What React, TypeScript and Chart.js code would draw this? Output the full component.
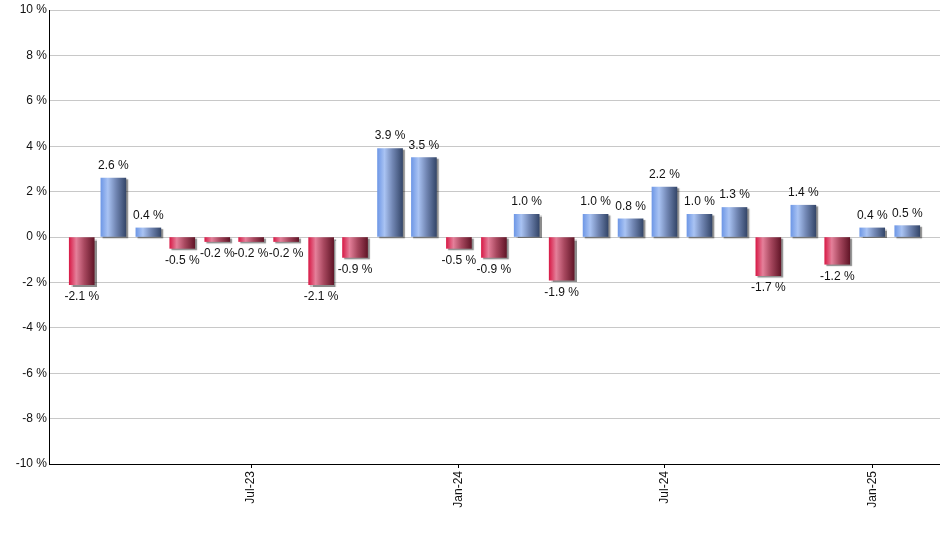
import React, { useEffect, useRef } from "react";
import { Chart, registerables } from "chart.js";

Chart.register(...registerables);

const months = [
  "2023-02", "2023-03", "2023-04", "2023-05", "2023-06", "2023-07", "2023-08",
  "2023-09", "2023-10", "2023-11", "2023-12", "2024-01", "2024-02", "2024-03",
  "2024-04", "2024-05", "2024-06", "2024-07", "2024-08", "2024-09", "2024-10",
  "2024-11", "2024-12", "2025-01", "2025-02",
];
const values = [
  -2.1, 2.6, 0.4, -0.5, -0.2, -0.2, -0.2, -2.1, -0.9, 3.9, 3.5, -0.5, -0.9,
  1.0, -1.9, 1.0, 0.8, 2.2, 1.0, 1.3, -1.7, 1.4, -1.2, 0.4, 0.5,
];
const tickMonths = ["2023-07", "2024-01", "2024-07", "2025-01"];
const tickLabels = ["Jul-23", "Jan-24", "Jul-24", "Jan-25"];
const yTicks = [-10, -8, -6, -4, -2, 0, 2, 4, 6, 8, 10];
const xRangeStart = "2023-01-03";
const xRangeEnd = "2025-03-02";

const DAY = 86400000;
const monthToDay = (m: string) => {
  const [y, mo] = m.split("-").map(Number);
  return Date.UTC(y, mo - 1, 1) / DAY;
};
const dateToDay = (d: string) => {
  const [y, mo, da] = d.split("-").map(Number);
  return Date.UTC(y, mo - 1, da) / DAY;
};

const FONT = "'Liberation Sans', Arial, sans-serif";
const BAR_W = 25;

export default function App() {
  const ref = useRef<HTMLCanvasElement | null>(null);

  useEffect(() => {
    if (!ref.current) return;
    const xVals = months.map(monthToDay);
    const tickVals = tickMonths.map(monthToDay);

    const makeGradient = (ctx: CanvasRenderingContext2D, cx: number, v: number) => {
      const g = ctx.createLinearGradient(cx - BAR_W / 2, 0, cx + BAR_W / 2, 0);
      if (v >= 0) {
        g.addColorStop(0, "#6f98e6");
        g.addColorStop(0.28, "#a9c3f3");
        g.addColorStop(0.6, "#7287b4");
        g.addColorStop(1, "#35476a");
      } else {
        g.addColorStop(0, "#d81c48");
        g.addColorStop(0.28, "#e4809a");
        g.addColorStop(0.6, "#a8485f");
        g.addColorStop(1, "#621628");
      }
      return g;
    };

    const barStylePlugin = {
      id: "barStyle",
      beforeDatasetDraw(chart: any) {
        const ctx = chart.ctx;
        const meta = chart.getDatasetMeta(0);
        meta.data.forEach((el: any, i: number) => {
          if (Number.isFinite(el.x) && el.options) {
            el.options.backgroundColor = makeGradient(ctx, el.x, values[i]);
          }
        });
        ctx.save();
        ctx.shadowColor = "rgba(0,0,0,0.45)";
        ctx.shadowOffsetX = 2;
        ctx.shadowOffsetY = 1.5;
        ctx.shadowBlur = 1;
      },
      afterDatasetDraw(chart: any) {
        chart.ctx.restore();
      },
    };

    const labelPlugin = {
      id: "barLabels",
      afterDraw(chart: any) {
        const ctx = chart.ctx;
        const meta = chart.getDatasetMeta(0);
        ctx.save();
        ctx.font = `12px ${FONT}`;
        ctx.fillStyle = "#111";
        ctx.textAlign = "center";
        ctx.textBaseline = "alphabetic";
        meta.data.forEach((el: any, i: number) => {
          const v = values[i];
          const txt = `${v.toFixed(1)} %`;
          const y = v >= 0 ? el.y - 9 : el.y + 15.5;
          ctx.fillText(txt, el.x, y);
        });
        ctx.restore();
      },
    };

    const chart = new Chart(ref.current, {
      type: "bar",
      data: {
        datasets: [
          {
            data: xVals.map((x, i) => ({ x, y: values[i] })),
            backgroundColor: values.map((v) => (v >= 0 ? "#7d98cc" : "#b84060")),
            borderWidth: 0,
            barThickness: BAR_W,
          } as any,
        ],
      },
      options: {
        responsive: false,
        animation: false,
        layout: { padding: { top: 10, right: 0, left: 0, bottom: 0 } },
        plugins: {
          legend: { display: false },
          tooltip: { enabled: false },
        },
        scales: {
          x: {
            type: "linear",
            offset: false,
            min: dateToDay(xRangeStart),
            max: dateToDay(xRangeEnd),
            afterBuildTicks: (scale: any) => {
              scale.ticks = tickVals.map((value) => ({ value }));
            },
            afterFit: (scale: any) => {
              scale.height = 86;
            },
            ticks: {
              autoSkip: false,
              minRotation: 90,
              maxRotation: 90,
              padding: 3,
              color: "#111",
              font: { family: FONT, size: 12 },
              callback: (val: any) => {
                const idx = tickVals.indexOf(Number(val));
                return idx >= 0 ? tickLabels[idx] : "";
              },
            },
            grid: {
              display: true,
              offset: false,
              drawOnChartArea: false,
              drawTicks: true,
              tickLength: 4,
              color: "#000",
            },
            border: { display: true, color: "#000", width: 1 },
          },
          y: {
            type: "linear",
            min: -10,
            max: 10,
            afterBuildTicks: (scale: any) => {
              scale.ticks = yTicks.map((value) => ({ value }));
            },
            afterFit: (scale: any) => {
              scale.width = 49;
            },
            ticks: {
              padding: 2,
              color: "#111",
              font: { family: FONT, size: 12 },
              callback: (val: any) => `${val} %`,
            },
            grid: {
              color: "#c8c8c8",
              lineWidth: 1,
              drawTicks: false,
            },
            border: { display: true, color: "#000", width: 1 },
          },
        },
      },
      plugins: [barStylePlugin, labelPlugin],
    });

    return () => chart.destroy();
  }, []);

  return (
    <div
      style={{
        position: "fixed",
        left: 0,
        top: 0,
        width: 940,
        height: 550,
        background: "#fff",
      }}
    >
      <canvas ref={ref} width={940} height={550} style={{ display: "block" }} />
    </div>
  );
}
